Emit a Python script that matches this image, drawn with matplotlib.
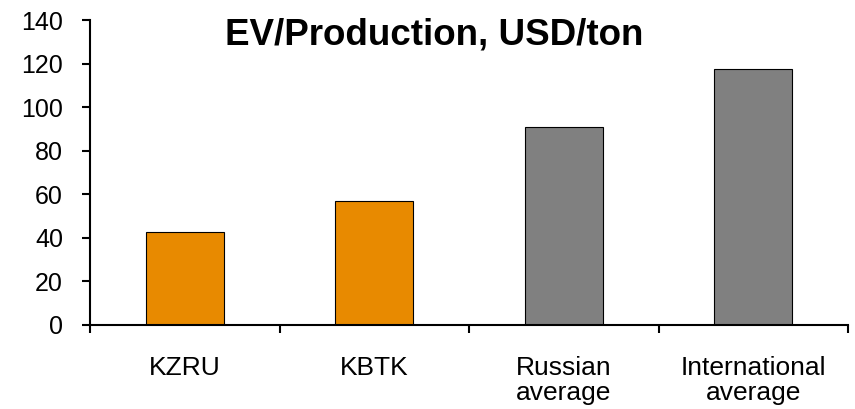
import matplotlib
matplotlib.use("Agg")
import matplotlib.pyplot as plt
import numpy as np

# data
categories = ["KZRU", "KBTK", "Russian\naverage", "International\naverage"]
values = [42.7, 56.9, 90.9, 117.5]
bar_colors = ["#E88A00", "#E88A00", "#808080", "#808080"]
y_ticks = [0, 20, 40, 60, 80, 100, 120, 140]
title = "EV/Production, USD/ton"

plt.rcParams["font.family"] = ["Liberation Sans", "DejaVu Sans"]

fig = plt.figure(figsize=(8.55, 4.09), dpi=100)
ax = fig.add_axes([90 / 855, 1 - 325 / 409, (848 - 90) / 855, (325 - 20) / 409])

x = np.arange(len(categories))
ax.bar(x, values, width=0.41, color=bar_colors, edgecolor="black", linewidth=0.8, zorder=2)

ax.set_xlim(-0.5, len(categories) - 0.5)
ax.set_ylim(0, 140)
ax.set_yticks(y_ticks)
ax.set_yticklabels([str(t) for t in y_ticks], fontsize=18)

# category labels in the middle, tick marks between categories
ax.set_xticks(x)
ax.set_xticklabels(categories, fontsize=19, linespacing=1.05)
ax.set_xticks(np.arange(len(categories) + 1) - 0.5, minor=True)
ax.tick_params(axis="x", which="major", length=0, pad=22)
ax.tick_params(axis="x", which="minor", length=6, width=1.5, direction="out")
ax.tick_params(axis="y", length=6, width=1.5, direction="out", pad=13.5)

for side in ["top", "right"]:
    ax.spines[side].set_visible(False)
for side in ["left", "bottom"]:
    ax.spines[side].set_linewidth(1.5)

fig.text(434 / 855, 1 - 35 / 409, title, ha="center", va="center",
         fontsize=26.5, fontweight="bold")

fig.savefig("out.png", dpi=100)
